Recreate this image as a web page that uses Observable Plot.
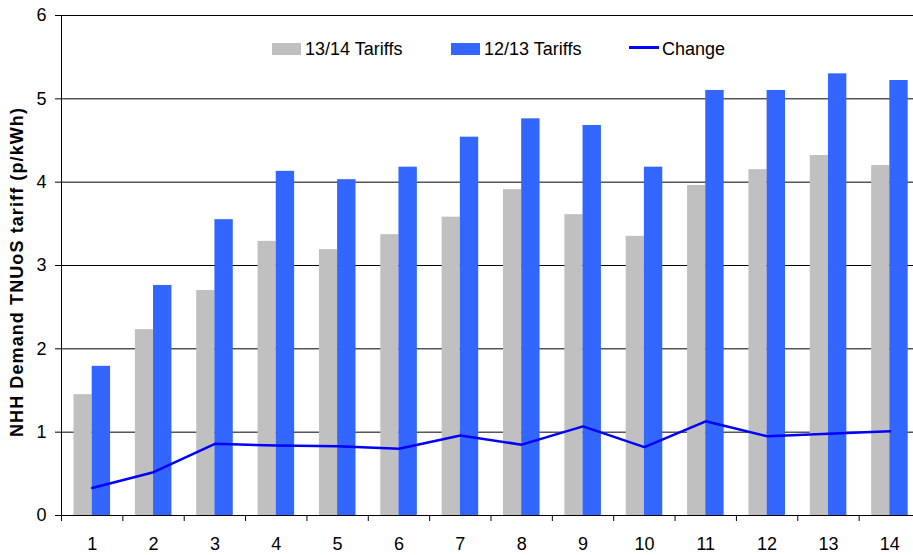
<!DOCTYPE html>
<html>
<head>
<meta charset="utf-8">
<script src="https://cdn.jsdelivr.net/npm/d3@7"></script>
<script src="https://cdn.jsdelivr.net/npm/@observablehq/plot@0.6"></script>
<style>
  html, body { margin: 0; padding: 0; background: #fff; }
  #wrap { position: relative; width: 913px; height: 555px; font-family: "Liberation Sans", Arial, sans-serif; }
  .leg { position: absolute; font-size: 18px; color: #000; line-height: 18px; white-space: nowrap; }
  .sw { position: absolute; }
  #ytitle { position: absolute; font-size: 18px; font-weight: bold; letter-spacing: 1.1px; white-space: nowrap;
            left: 17px; top: 272px; transform: translate(-50%, -50%) rotate(-90deg); line-height: 18px; }
</style>
</head>
<body>
<div id="wrap"></div>
<script>
const categories = [1, 2, 3, 4, 5, 6, 7, 8, 9, 10, 11, 12, 13, 14];
const tariffs1314 = [1.45, 2.23, 2.70, 3.29, 3.19, 3.37, 3.58, 3.91, 3.61, 3.35, 3.96, 4.15, 4.32, 4.20];
const tariffs1213 = [1.79, 2.76, 3.55, 4.13, 4.03, 4.18, 4.54, 4.76, 4.68, 4.18, 5.10, 5.10, 5.30, 5.22];
const change = [0.33, 0.52, 0.86, 0.84, 0.83, 0.80, 0.96, 0.85, 1.07, 0.82, 1.13, 0.95, 0.98, 1.01];
const yTicks = [0, 1, 2, 3, 4, 5, 6];
const seriesNames = ["13/14 Tariffs", "12/13 Tariffs", "Change"];
const yTitle = "NHH Demand TNUoS tariff (p/kWh)";

const data = categories.map((c, i) => ({cat: c, a: tariffs1314[i], b: tariffs1213[i], ch: change[i]}));
const xDomain = [categories[0] - 0.5, categories[categories.length - 1] + 0.5];
const boundaries = categories.map(c => c - 0.5).concat([xDomain[1]]);

const grey = "#C0C0C0", blue = "#3366FF", lineBlue = "#0000FF";

const plot = Plot.plot({
  width: 913,
  height: 555,
  marginTop: 15,
  marginBottom: 40,
  marginLeft: 61,
  marginRight: 0,
  style: {fontFamily: "'Liberation Sans', Arial, sans-serif", fontSize: "18px", color: "#000", background: "#fff"},
  x: {type: "linear", domain: xDomain, range: [61, 920]},
  y: {domain: [0, 6], label: null},
  marks: [
    Plot.ruleY(yTicks.slice(1), {stroke: "#000", strokeWidth: 1}),
    Plot.rectY(data, {x1: d => d.cat - 0.5, x2: d => d.cat, y1: 0, y2: "a", fill: grey, insetLeft: 12.5, insetRight: 0}),
    Plot.rectY(data, {x1: d => d.cat, x2: d => d.cat + 0.5, y1: 0, y2: "b", fill: blue, insetLeft: 0, insetRight: 12.3}),
    Plot.line(data, {x: "cat", y: "ch", stroke: lineBlue, strokeWidth: 2.5}),
    Plot.ruleY([0], {stroke: "#000", strokeWidth: 1}),
    Plot.ruleX([xDomain[0]], {stroke: "#000", strokeWidth: 1}),
    Plot.axisY({ticks: yTicks, tickSize: 6, tickPadding: 9, fontSize: 18, label: null, stroke: "#000", tickFormat: d => String(d)}),
    Plot.axisX({ticks: categories, tickSize: 0, tickPadding: 22, fontSize: 18, label: null, tickFormat: d => String(d)}),
    Plot.axisX({ticks: boundaries, tickSize: 6, tickFormat: () => "", label: null, stroke: "#000"})
  ]
});

const wrap = document.getElementById("wrap");
wrap.appendChild(plot);

function addSwatch(left, top, w, h, color) {
  const s = document.createElement("div");
  s.className = "sw";
  Object.assign(s.style, {left: left + "px", top: top + "px", width: w + "px", height: h + "px", background: color});
  wrap.appendChild(s);
}
function addLabel(left, top, text) {
  const t = document.createElement("div");
  t.className = "leg";
  t.style.left = left + "px";
  t.style.top = top + "px";
  t.textContent = text;
  wrap.appendChild(t);
}
addSwatch(272, 43, 29, 12, grey);
addLabel(305, 40, seriesNames[0]);
addSwatch(451, 43, 29, 12, blue);
addLabel(484, 40, seriesNames[1]);
addSwatch(629, 46, 30, 2.5, lineBlue);
addLabel(662, 40, seriesNames[2]);

const yt = document.createElement("div");
yt.id = "ytitle";
yt.textContent = yTitle;
wrap.appendChild(yt);
</script>
</body>
</html>
